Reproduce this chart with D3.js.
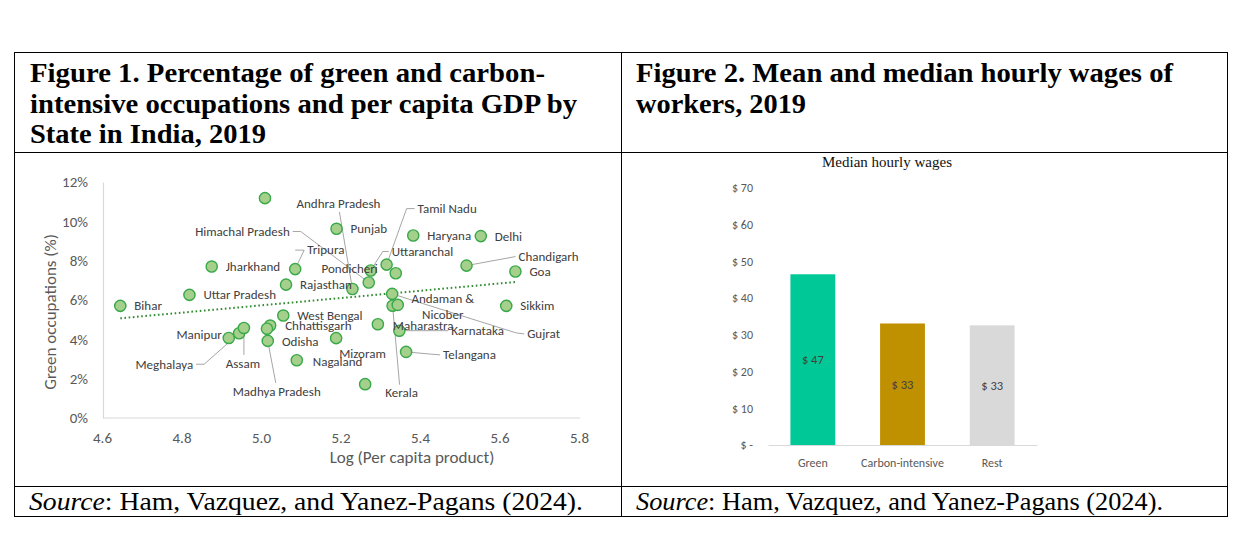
<!DOCTYPE html>
<html><head><meta charset="utf-8">
<script src="https://cdn.jsdelivr.net/npm/d3@7"></script>
<style>
html,body{margin:0;padding:0;background:#fff;}
svg{display:block;}
</style></head>
<body>
<svg id="c" width="1237" height="548"></svg>
<script>
// ---------------- DATA ----------------
// Figure 1: states, log per-capita product, green occupations (%)
const states = ["Bihar","Uttar Pradesh","Jharkhand","Tripura","Rajasthan","Himachal Pradesh","Andhra Pradesh","Punjab","",
  "Haryana","Delhi","Tamil Nadu","Uttaranchal","Pondicheri","Chandigarh","Goa","Gujrat","Kerala","Andaman &\nNicober",
  "Sikkim","West Bengal","Chhattisgarh","Odisha","Madhya Pradesh","Manipur","Meghalaya","Assam","Nagaland","Mizoram",
  "Maharastra","Karnataka","Telangana",""];
const logGdp = [4.646,4.820,4.876,5.086,5.063,5.271,5.230,5.190,5.010,
  5.383,5.553,5.316,5.276,5.339,5.517,5.640,5.330,5.331,5.344,
  5.617,5.056,5.023,5.015,5.017,4.919,4.945,4.957,5.090,5.189,
  5.294,5.348,5.365,5.262];
const greenPct = [5.70,6.26,7.70,7.57,6.78,6.89,6.56,9.62,11.18,
  9.28,9.25,7.80,7.50,7.36,7.75,7.45,6.31,5.71,5.75,
  5.70,5.21,4.70,4.54,3.92,4.07,4.31,4.58,2.94,4.06,
  4.77,4.44,3.36,1.72];
const xTicks = [4.6,4.8,5.0,5.2,5.4,5.6,5.8];
const yTicks = [0,2,4,6,8,10,12];
const trendX = [4.646,5.643];
const trendY = [5.07,6.92];

// Figure 2: median hourly wages
const wageCategories = ["Green","Carbon-intensive","Rest"];
const medianWages = [46.5,33.1,32.6];
const wageLabels = ["$ 47","$ 33","$ 33"];
const wageTicks = [0,10,20,30,40,50,60,70];

// ---------------- LAYOUT / STYLE ----------------
const labelLayout = {
  "Tripura":{dx:12,dy:-20,leader:[[0,-19],[9,-19]]},
  "Himachal Pradesh":{dx:-79,dy:-51,anchor:"end",leader:[[-76,-51],[-68,-51]]},
  "Andhra Pradesh":{dx:-14,dy:-85,anchor:"middle",leader:[[-13,-77]]},
  "Tamil Nadu":{dx:31,dy:-56,leader:[[28,-56],[20,-56]]},
  "Uttaranchal":{dx:21,dy:-19,leader:[[18,-19],[12,-19]]},
  "Pondicheri":{dx:-18,dy:-5,anchor:"end"},
  "Chandigarh":{dx:52,dy:-9,leader:[[49,-9]]},
  "Gujrat":{dx:135,dy:40,leader:[[132,40],[124,39]]},
  "Kerala":{dx:9,dy:87,anchor:"middle",leader:[[7,79]]},
  "Andaman &\nNicober":{dx:45,dy:-7,anchor:"middle"},
  "Madhya Pradesh":{dx:9,dy:51,anchor:"middle",leader:[[8,42]]},
  "Odisha":{dx:15,dy:13},
  "Chhattisgarh":{dx:15,dy:0},
  "Manipur":{dx:-7,dy:-3,anchor:"end",leader:[[-5,-2]]},
  "Meghalaya":{dx:-46,dy:31,anchor:"end",leader:[[-43,31],[-35,31]]},
  "Assam":{dx:-1,dy:36,anchor:"middle",leader:[[0,27]]},
  "Karnataka":{dx:52,dy:0,leader:[[49,0]]},
  "Telangana":{dx:37,dy:3,leader:[[34,3]]},
  "Mizoram":{dx:3,dy:15},
  "Nagaland":{dx:16,dy:1},
  "Maharastra":{dx:15,dy:1}
};
const SANS = "Carlito, Calibri, Lato, 'Open Sans', sans-serif";
const SERIF = "'Liberation Serif', 'Times New Roman', serif";

const svg = d3.select("#c");
svg.append("rect").attr("width",1237).attr("height",548).attr("fill","#fff");

// ---------------- TABLE FRAME ----------------
const T = {l:14.5, r:1227.5, t:52.5, h1:152.5, h2:486.5, b:516.5, mid:621.5};
const frame = svg.append("g").attr("stroke","#000").attr("stroke-width",1).attr("fill","none");
frame.append("rect").attr("x",T.l).attr("y",T.t).attr("width",T.r-T.l).attr("height",T.b-T.t);
frame.append("line").attr("x1",T.l).attr("x2",T.r).attr("y1",T.h1).attr("y2",T.h1);
frame.append("line").attr("x1",T.l).attr("x2",T.r).attr("y1",T.h2).attr("y2",T.h2);
frame.append("line").attr("x1",T.mid).attr("x2",T.mid).attr("y1",T.t).attr("y2",T.b);

function fitText(x,y,str,width,size,weight){
  const t = svg.append("text").attr("x",x).attr("y",y).attr("font-family",SERIF)
    .attr("font-size",size).attr("font-weight",weight||"normal").attr("fill","#000");
  t.text(str);
  if(width) t.attr("textLength",width).attr("lengthAdjust","spacingAndGlyphs");
  return t;
}
fitText(30,82,"Figure 1. Percentage of green and carbon-",515,28,"bold");
fitText(30,112.5,"intensive occupations and per capita GDP by",547,28,"bold");
fitText(30,143,"State in India, 2019",236,28,"bold");
fitText(636,82,"Figure 2. Mean and median hourly wages of",537,28,"bold");
fitText(636,112.5,"workers, 2019",170,28,"bold");

function sourceText(x,w){
  const t = svg.append("text").attr("x",x).attr("y",510).attr("font-family",SERIF)
    .attr("font-size",25).attr("fill","#000");
  t.append("tspan").attr("font-style","italic").text("Source");
  t.append("tspan").text(": Ham, Vazquez, and Yanez-Pagans (2024).");
  t.attr("textLength",w).attr("lengthAdjust","spacingAndGlyphs");
}
sourceText(29,554);
sourceText(636,527);

// ---------------- FIGURE 1: SCATTER ----------------
const x = d3.scaleLinear().domain([4.6,5.8]).range([102,579]);
const y = d3.scaleLinear().domain([0,12]).range([418,182]);
const g1 = svg.append("g");

const ax = g1.append("g").attr("transform","translate(0,418)")
  .call(d3.axisBottom(x).tickValues(xTicks).tickSize(0).tickPadding(14).tickFormat(d3.format(".1f")));
const ay = g1.append("g").attr("transform","translate(103,0)")
  .call(d3.axisLeft(y).tickValues(yTicks).tickSize(0).tickPadding(15).tickFormat(d=>d+"%"));
[ax,ay].forEach(a=>{
  a.select(".domain").attr("stroke","#d9d9d9").attr("stroke-width",1.2);
  a.selectAll("text").attr("font-family",SANS).attr("font-size",15).attr("fill","#595959");
});
ax.select(".domain").attr("d","M103,0H580");

g1.append("text").attr("x",412).attr("y",463).attr("text-anchor","middle")
  .attr("font-family",SANS).attr("font-size",17).attr("fill","#595959").text("Log (Per capita product)");
g1.append("text").attr("transform","translate(56,312) rotate(-90)").attr("text-anchor","middle")
  .attr("font-family",SANS).attr("font-size",17).attr("fill","#595959").text("Green occupations (%)");

// trendline
g1.append("line").attr("x1",x(trendX[0])).attr("y1",y(trendY[0])).attr("x2",x(trendX[1])).attr("y2",y(trendY[1]))
  .attr("stroke","#2e8b2e").attr("stroke-width",2).attr("stroke-dasharray","1.6,2.6");

const pts = states.map((s,i)=>({name:s, px:x(logGdp[i]), py:y(greenPct[i])}));

// leader lines (behind markers)
pts.forEach(p=>{
  const L = labelLayout[p.name];
  if(!L || !L.leader) return;
  const verts = L.leader.map(v=>[p.px+v[0],p.py+v[1]]).concat([[p.px,p.py]]);
  g1.append("path").attr("d",d3.line()(verts)).attr("fill","none")
    .attr("stroke","#a6a6a6").attr("stroke-width",1);
});

// markers
g1.selectAll("circle.pt").data(pts).join("circle").attr("class","pt")
  .attr("cx",d=>d.px).attr("cy",d=>d.py).attr("r",5.6)
  .attr("fill","#a5d08c").attr("stroke","#38a848").attr("stroke-width",1.4);

// labels
pts.forEach(p=>{
  if(!p.name) return;
  const L = labelLayout[p.name] || {dx:14,dy:0};
  const t = g1.append("text").attr("x",p.px+L.dx).attr("y",p.py+L.dy)
    .attr("text-anchor",L.anchor||"start").attr("dominant-baseline","central")
    .attr("font-family",SANS).attr("font-size",13).attr("fill","#404040");
  const lines = p.name.split("\n");
  if(lines.length===1) t.text(p.name);
  else lines.forEach((ln,k)=>t.append("tspan").attr("x",p.px+L.dx).attr("dy",k?16:0).text(ln));
});

// ---------------- FIGURE 2: BAR ----------------
const xb = d3.scaleBand().domain(wageCategories).range([768,1037]).paddingInner(0.5).paddingOuter(0.25);
const yb = d3.scaleLinear().domain([0,70]).range([445,188]);
const g2 = svg.append("g");
const barColors = ["#00c896","#bf9000","#d9d9d9"];

g2.append("text").attr("x",887).attr("y",167).attr("text-anchor","middle")
  .attr("font-family",SERIF).attr("font-size",15).attr("fill","#111").text("Median hourly wages");

const ayb = g2.append("g").attr("transform","translate(768,0)")
  .call(d3.axisLeft(yb).tickValues(wageTicks).tickSize(0).tickPadding(15).tickFormat(d=>d===0?"$ -":"$ "+d));
ayb.select(".domain").remove();
ayb.selectAll("text").attr("font-family",SANS).attr("font-size",12).attr("fill","#595959");

g2.selectAll("rect.bar").data(wageCategories).join("rect").attr("class","bar")
  .attr("x",d=>xb(d)).attr("width",xb.bandwidth())
  .attr("y",(d,i)=>yb(medianWages[i])).attr("height",(d,i)=>yb(0)-yb(medianWages[i]))
  .attr("fill",(d,i)=>barColors[i]);

g2.selectAll("text.val").data(wageCategories).join("text").attr("class","val")
  .attr("x",d=>xb(d)+xb.bandwidth()/2).attr("y",(d,i)=>(yb(0)+yb(medianWages[i]))/2)
  .attr("text-anchor","middle").attr("dominant-baseline","central")
  .attr("font-family",SANS).attr("font-size",12.5).attr("fill","#404040")
  .text((d,i)=>wageLabels[i]);

const axb = g2.append("g").attr("transform","translate(0,445)")
  .call(d3.axisBottom(xb).tickSize(0).tickPadding(13));
axb.select(".domain").attr("stroke","#d9d9d9").attr("stroke-width",1.2);
axb.selectAll("text").attr("font-family",SANS).attr("font-size",12).attr("fill","#595959");
</script>
</body></html>
